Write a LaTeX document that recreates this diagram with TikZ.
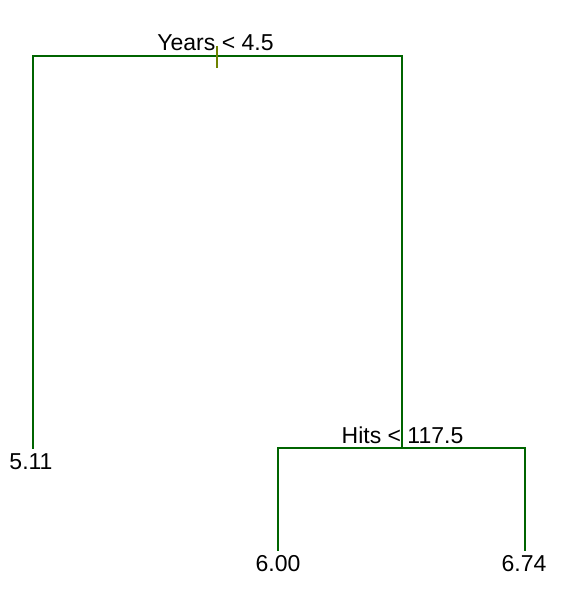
\documentclass[tikz,border=0pt]{standalone}
\usepackage{fontspec}
\setmainfont{Liberation Sans}
\definecolor{branch}{RGB}{0,100,0}
\definecolor{tickc}{RGB}{110,130,0}
\tikzset{
  edge/.style={draw=branch, line width=1.5pt, line cap=rect},
  lbl/.style={anchor=base, inner sep=0pt, font=\fontsize{23}{23}\selectfont},
}
\begin{document}
\begin{tikzpicture}[x=1pt,y=-1pt]
\useasboundingbox (0,0) rectangle (564,596);
% tree points
\coordinate (rootL) at (33,56);
\coordinate (rootR) at (402,56);
\coordinate (leafA) at (33,448);
\coordinate (hitsR) at (402,448);
\coordinate (hitsLL) at (278,448);
\coordinate (hitsRR) at (525,448);
\coordinate (leafB) at (278,550);
\coordinate (leafC) at (525,550);
\coordinate (tickT) at (217,46);
\coordinate (tickB) at (217,68);
% edges
\draw[edge] (leafA) -- (rootL) -- (rootR) -- (hitsR);
\draw[edge] (leafB) -- (hitsLL) -- (hitsRR) -- (leafC);
\draw[draw=tickc, line width=1.2pt] (tickT) -- (tickB);
% labels
\node[lbl] (years) at (215.5,51) {Years < 4.5};
\node[lbl] (hits) at (402.5,443) {Hits < 117.5};
\node[lbl] (v1) at (31,469) {5.11};
\node[lbl] (v2) at (278,571) {6.00};
\node[lbl] (v3) at (524,571) {6.74};
\end{tikzpicture}
\end{document}
